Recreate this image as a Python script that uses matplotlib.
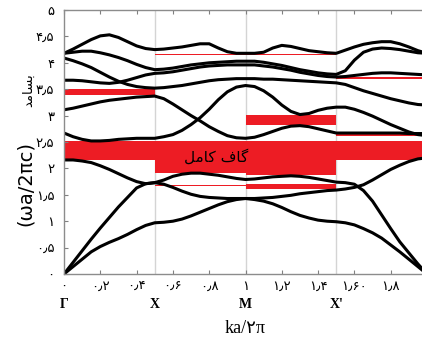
import matplotlib
matplotlib.use("Agg")
import matplotlib.pyplot as plt

# wave vector along Γ-X-M-X'-Γ (ka/2π)
k = [0.00, 0.05, 0.10, 0.15, 0.20, 0.25, 0.30, 0.35, 0.40, 0.45,
     0.50, 0.55, 0.60, 0.65, 0.70, 0.75, 0.80, 0.85, 0.90, 0.95,
     1.00, 1.05, 1.10, 1.15, 1.20, 1.25, 1.30, 1.35, 1.40, 1.45,
     1.50, 1.55, 1.60, 1.65, 1.70, 1.75, 1.80, 1.85, 1.90, 1.95, 2.00]

# frequency (ωa/2πc) of each band
band1 = [0.00, 0.14, 0.28, 0.42, 0.52, 0.60, 0.67, 0.75, 0.84, 0.92, 0.97,
         0.98, 1.00, 1.04, 1.10, 1.17, 1.24, 1.31, 1.37, 1.41, 1.43,
         1.41, 1.38, 1.33, 1.26, 1.18, 1.11, 1.06, 1.02, 1.00, 0.99,
         0.97, 0.93, 0.86, 0.78, 0.68, 0.55, 0.42, 0.28, 0.14, 0.00]
band2 = [0.00, 0.22, 0.44, 0.66, 0.87, 1.07, 1.27, 1.45, 1.63, 1.71, 1.73,
         1.70, 1.64, 1.57, 1.51, 1.47, 1.45, 1.44, 1.43, 1.43, 1.43,
         1.43, 1.44, 1.45, 1.47, 1.49, 1.52, 1.54, 1.56, 1.58, 1.59,
         1.61, 1.64, 1.69, 1.78, 1.88, 1.98, 2.06, 2.13, 2.18, 2.20]
band3 = [2.16, 2.16, 2.14, 2.11, 2.05, 1.98, 1.90, 1.82, 1.75, 1.71, 1.73,
         1.78, 1.85, 1.89, 1.91, 1.91, 1.89, 1.87, 1.84, 1.81, 1.79,
         1.80, 1.82, 1.84, 1.85, 1.86, 1.85, 1.83, 1.80, 1.77, 1.74,
         1.73, 1.70, 1.58, 1.38, 1.12, 0.86, 0.61, 0.40, 0.19, 0.00]
band4 = [2.67, 2.60, 2.55, 2.52, 2.52, 2.53, 2.55, 2.56, 2.57, 2.57, 2.57,
         2.60, 2.64, 2.72, 2.83, 2.96, 3.12, 3.30, 3.45, 3.54, 3.57,
         3.55, 3.47, 3.35, 3.20, 3.08, 3.02, 3.04, 3.10, 3.14, 3.16,
         3.16, 3.12, 3.06, 2.99, 2.91, 2.83, 2.76, 2.69, 2.64, 2.62]
band5 = [3.11, 3.14, 3.18, 3.22, 3.26, 3.29, 3.31, 3.33, 3.35, 3.36, 3.37,
         3.32, 3.22, 3.11, 3.00, 2.90, 2.79, 2.70, 2.62, 2.58, 2.57,
         2.59, 2.64, 2.70, 2.76, 2.80, 2.81, 2.79, 2.75, 2.71, 2.67,
         2.67, 2.67, 2.67, 2.67, 2.67, 2.67, 2.67, 2.66, 2.66, 2.66]
band6 = [4.09, 4.04, 3.98, 3.91, 3.82, 3.73, 3.65, 3.59, 3.55, 3.53, 3.52,
         3.53, 3.55, 3.57, 3.60, 3.63, 3.66, 3.68, 3.69, 3.70, 3.70,
         3.70, 3.69, 3.69, 3.68, 3.67, 3.66, 3.65, 3.64, 3.63, 3.62,
         3.59, 3.53, 3.47, 3.42, 3.37, 3.32, 3.28, 3.24, 3.21, 3.20]
band7 = [3.67, 3.67, 3.66, 3.64, 3.62, 3.61, 3.63, 3.67, 3.72, 3.77, 3.80,
         3.81, 3.83, 3.86, 3.89, 3.92, 3.94, 3.95, 3.96, 3.96, 3.96,
         3.96, 3.94, 3.92, 3.89, 3.86, 3.82, 3.79, 3.76, 3.74, 3.73,
         3.74, 3.76, 3.78, 3.80, 3.81, 3.81, 3.80, 3.79, 3.78, 3.77]
band8 = [4.18, 4.20, 4.22, 4.22, 4.19, 4.15, 4.10, 4.04, 3.97, 3.91, 3.87,
         3.88, 3.90, 3.93, 3.96, 3.98, 4.00, 4.01, 4.02, 4.03, 4.03,
         4.03, 4.01, 3.98, 3.95, 3.91, 3.87, 3.84, 3.81, 3.79, 3.78,
         3.85, 4.05, 4.20, 4.26, 4.28, 4.27, 4.25, 4.22, 4.19, 4.18]
band9 = [4.18, 4.26, 4.35, 4.44, 4.51, 4.53, 4.48, 4.40, 4.32, 4.27, 4.25,
         4.26, 4.28, 4.30, 4.33, 4.36, 4.36, 4.28, 4.21, 4.18, 4.18,
         4.18, 4.20, 4.28, 4.33, 4.31, 4.27, 4.23, 4.21, 4.19, 4.18,
         4.24, 4.30, 4.35, 4.38, 4.40, 4.40, 4.36, 4.30, 4.23, 4.18]
bands = [band1, band2, band3, band4, band5, band6, band7, band8, band9]

# band gaps on each segment: start k, end k, lower and upper frequency
gap_k0 = [0.0, 0.5, 1.0, 1.5, 0.0, 0.5, 1.0, 1.5, 0.5, 1.0, 1.5]
gap_k1 = [0.5, 1.0, 1.5, 2.0, 0.5, 1.5, 1.5, 2.0, 1.0, 1.5, 2.0]
gap_lo = [2.16, 1.91, 1.88, 2.16, 3.39, 4.150, 2.82, 3.700, 1.675, 1.61, 2.620]
gap_hi = [2.51, 2.51, 2.52, 2.51, 3.51, 4.175, 3.01, 3.725, 1.695, 1.70, 2.645]

sym_k = [0.0, 0.5, 1.0, 1.5]
sym_names = ["Γ", "X", "M", "X'"]

xtick_vals = [0.0, 0.2, 0.4, 0.6, 0.8, 1.0, 1.2, 1.4, 1.6, 1.8]
xtick_labels = ["۰", "۰٫۲", "۰٫۴", "۰٫۶", "۰٫۸", "۱", "۱٫۲", "۱٫۴", "۱٫۶۰", "۱٫۸"]
ytick_vals = [0, 0.5, 1, 1.5, 2, 2.5, 3, 3.5, 4, 4.5, 5]
ytick_labels = ["۰", "۰٫۵", "۱", "۱٫۵", "۲", "۲٫۵", "۳", "۳٫۵", "۴", "۴٫۵", "۵"]

# Persian words in presentation forms, visual order (no shaping in matplotlib)
gap_text = "\uFEDE\uFEE3\uFE8E\uFB90 \uFED1\uFE8E\uFB94"   # گاف کامل
freq_text = "\uFEAA\uFEE3\uFE8E\uFEB4\uFE91"              # بسامد

fig = plt.figure(figsize=(4.22, 3.38), dpi=100)
ax = fig.add_axes([64/422, 64/338, 363/422, 264/338])

red = "#ED1C24"
widths = [b - a for a, b in zip(gap_k0, gap_k1)]
heights = [b - a for a, b in zip(gap_lo, gap_hi)]
ax.bar(gap_k0, heights, width=widths, bottom=gap_lo, align="edge",
       color=red, linewidth=0, zorder=1)

for x in sym_k[1:]:
    ax.axvline(x, color="#d4d4d4", lw=1, zorder=0)

for b in bands:
    ax.plot(k, b, color="black", lw=2.2, solid_capstyle="round", zorder=2)

ax.text(0.84, 2.22, gap_text, fontsize=11, ha="center", va="center",
        family=["DejaVu Sans"], zorder=3)

ax.set_xlim(0, 2)
ax.set_ylim(0, 5)
ax.set_xticks(xtick_vals)
ax.set_xticklabels(xtick_labels, family=["DejaVu Sans"], fontsize=9.5)
ax.set_yticks(ytick_vals)
ax.set_yticklabels(ytick_labels, family=["DejaVu Sans"], fontsize=9.5)
ax.tick_params(direction="in", length=3, width=0.8, color="#808080",
               top=True, right=True)
ax.tick_params(axis="x", pad=4)
ax.tick_params(axis="y", pad=7)
for s in ax.spines.values():
    s.set_color("#8c8c8c")
    s.set_linewidth(1)

trans = ax.get_xaxis_transform()
for x, name in zip(sym_k, sym_names):
    ax.text(x, -0.117, name, transform=trans, ha="center", va="center",
            fontsize=10, fontweight="bold", family=["Liberation Serif"])

ax.text(1.0, -0.205, "ka/۲π", transform=trans,
        ha="center", va="center", fontsize=13,
        family=["Liberation Serif", "DejaVu Sans"])

fig.text(31/422, (338-226)/338, "(ωa/2πc)", rotation=90, rotation_mode="anchor",
         ha="left", va="baseline", fontsize=14, family=["DejaVu Sans"])
fig.text(32/422, (338-107)/338, freq_text, rotation=90, rotation_mode="anchor",
         ha="left", va="baseline", fontsize=9.5, family=["DejaVu Sans"])

fig.savefig("out.png", dpi=100)
